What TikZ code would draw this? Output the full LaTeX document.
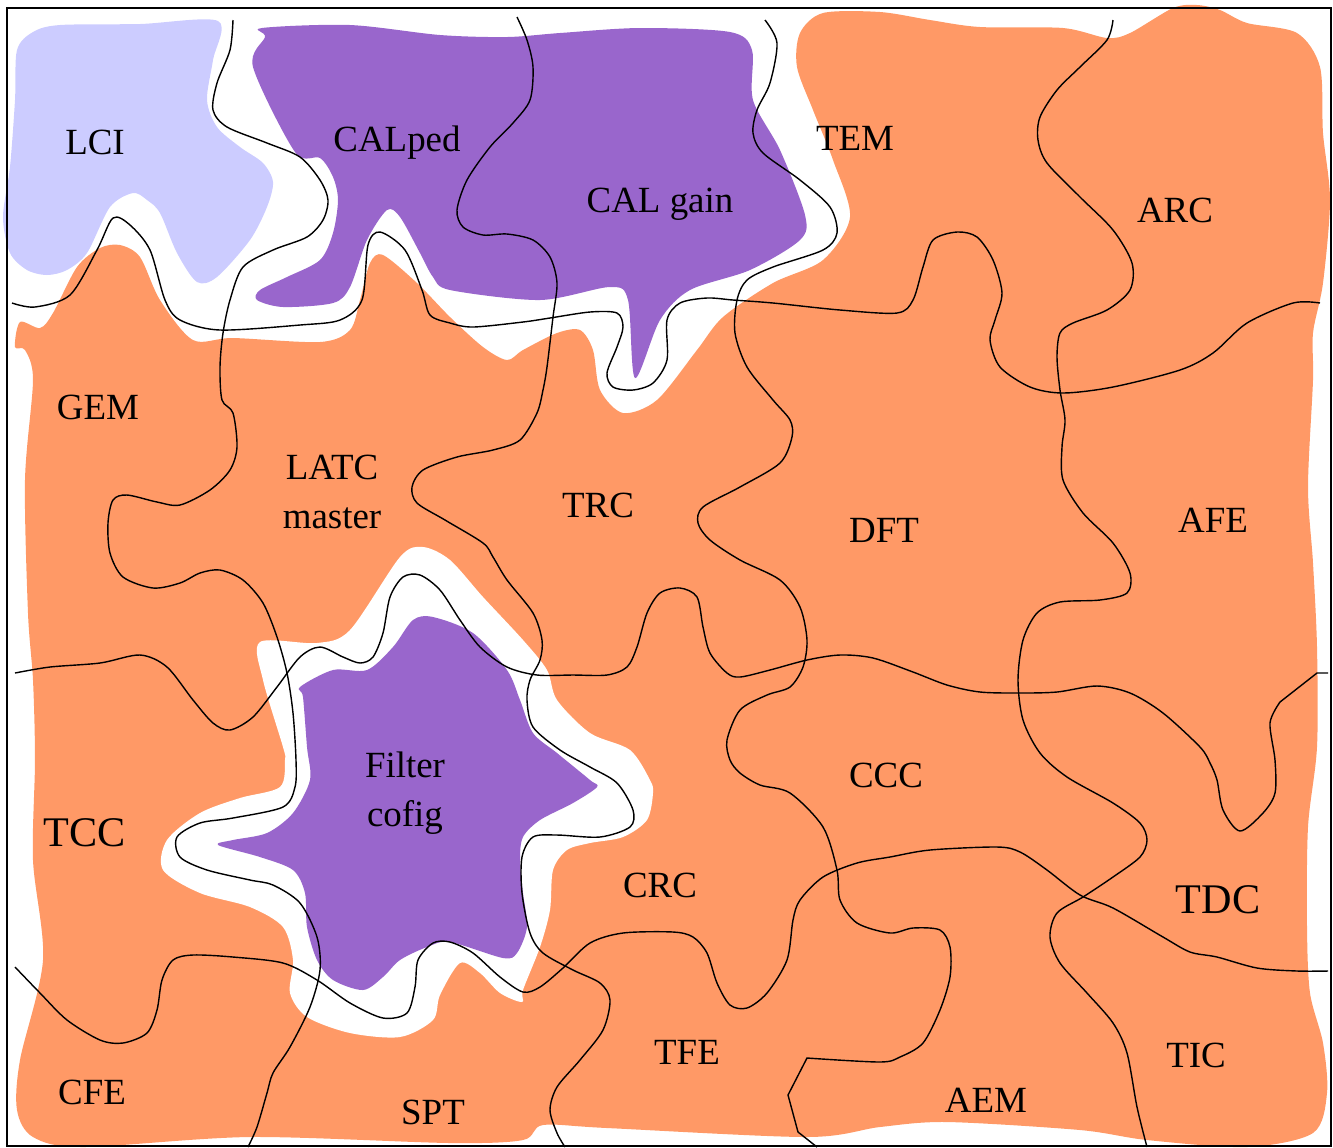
\documentclass[tikz,border=0pt]{standalone}
\usepackage{fontspec}
\setmainfont{Liberation Serif}
\usepackage{tikz}

\definecolor{piece}{HTML}{FF9966}
\definecolor{lilac}{HTML}{CCCCFF}
\definecolor{calpurple}{HTML}{9966CC}

\begin{document}
\begin{tikzpicture}[
        x=0.01cm, y=-0.01cm,
        lbl/.style={inner sep=0pt, align=center, font=\fontsize{10.5}{14}\selectfont},
        biglbl/.style={lbl, font=\fontsize{12}{15}\selectfont},
        cut/.style={line width=0.4pt, black},
        blob/.style={smooth cycle, tension=0.5}
    ]
    \useasboundingbox (0,0) rectangle (1333,1147);

    % orange board
    \fill[piece] plot[blob] coordinates {(15,347) (20,322) (40,328) (53,313) (77,267) (100,248) (120,245) (140,257) (160,300) (193,340) (233,338) (320,342) (350,330) (360,300) (370,263) (383,255) (417,283) (450,317) (483,347) (507,360) (523,350) (557,333) (580,330) (593,350) (600,390) (623,413) (657,400) (697,350) (723,317) (773,283) (823,260) (850,217) (833,160) (813,110) (797,67) (800,33) (823,13) (880,12) (930,20) (980,27) (1063,28) (1107,38) (1130,33) (1173,8) (1197,5) (1220,10) (1247,23) (1297,33) (1320,67) (1323,133) (1330,200) (1323,283) (1313,333) (1313,380) (1308,487) (1313,563) (1317,647) (1317,747) (1308,827) (1307,927) (1310,993) (1323,1043) (1327,1093) (1313,1133) (1247,1147) (1147,1140) (1080,1130) (947,1122) (880,1127) (807,1137) (607,1128) (543,1125) (523,1140) (450,1143) (250,1137) (83,1147) (33,1137) (17,1110) (20,1060) (43,960) (33,860) (35,760) (33,680) (28,613) (25,480) (33,380) (25,350)};

    % gap round the filter piece
    \fill[white] plot[blob] coordinates {(423,547) (450,560) (483,597) (523,640) (547,670) (557,700) (590,733) (630,750) (650,780) (653,793) (647,820) (623,837) (590,843) (567,850) (553,870) (550,910) (540,947) (523,990) (522,1002) (500,993) (480,973) (460,963) (440,995) (433,1020) (400,1037) (350,1033) (307,1017) (290,993) (293,960) (283,927) (250,907) (200,893) (163,870) (167,840) (200,813) (240,798) (280,787) (285,760) (283,747) (263,680) (260,642) (317,643) (350,630) (400,557)};

    % LCI piece
    \fill[lilac] plot[blob] coordinates {(60,25) (140,24) (218,21) (213,60) (207,100) (217,127) (240,147) (263,163) (273,182) (267,207) (250,240) (217,277) (197,282) (177,253) (160,213) (147,200) (133,193) (110,207) (87,253) (67,270) (47,275) (27,270) (10,253) (3,217) (10,167) (15,100) (17,50) (33,32)};

    % CAL pieces
    \fill[calpurple] plot[blob] coordinates {(262,28) (350,25) (440,35) (507,37) (560,33) (640,28) (730,32) (752,50) (753,100) (780,150) (805,215) (800,240) (750,270) (690,290) (660,320) (635,378) (628,300) (610,287) (540,300) (450,290) (433,277) (420,253) (400,217) (387,210) (367,240) (350,287) (333,303) (283,307) (257,300) (260,290) (287,277) (320,260) (333,233) (338,200) (333,177) (320,158) (295,152) (253,67) (265,37)};

    % Filter piece
    \fill[calpurple] plot[blob] coordinates {(433,617) (473,633) (507,670) (520,700) (533,733) (557,753) (590,780) (597,787) (573,803) (540,820) (523,837) (520,860) (523,893) (527,927) (517,953) (503,958) (450,942) (427,947) (400,960) (383,977) (363,990) (333,980) (317,960) (307,927) (305,893) (293,870) (260,857) (218,845) (233,840) (267,833) (293,813) (310,780) (307,747) (303,697) (300,687) (333,670) (367,670) (393,647) (413,620)};

    % cuts
    \draw[cut] plot[smooth] coordinates {(12,303) (35,307) (70,295) (97,250) (113,218) (130,225) (150,250) (165,300) (180,320) (220,330) (300,325) (340,320) (362,300) (368,245) (380,232) (405,250) (422,290) (430,315) (450,323) (473,327) (523,322) (550,318) (590,312) (617,313) (623,327) (617,347) (607,373) (613,387) (633,390) (653,383) (667,360) (667,320) (680,303) (707,298) (733,300) (773,303) (840,310) (897,313) (913,300) (923,267) (933,240) (957,232) (977,237) (993,260) (1002,293) (995,320) (990,340) (1000,367) (1030,387) (1063,393) (1113,387) (1180,370) (1213,353) (1247,323) (1293,303) (1320,303)};
    \draw[cut] plot[smooth] coordinates {(233,20) (230,50) (217,83) (213,110) (227,127) (267,143) (300,157) (320,180) (328,200) (323,220) (307,237) (273,250) (243,267) (230,300) (223,333) (220,367) (222,400) (233,413) (237,447) (230,470) (210,490) (180,505) (157,502) (127,495) (113,500) (108,523) (110,553) (123,577) (153,588) (180,583) (200,573) (220,570) (243,580) (263,603) (277,637) (287,673) (293,713) (296,760) (295,787) (283,807) (233,818) (200,823) (177,837) (180,857) (207,870) (250,880) (273,885) (300,903) (317,937) (320,970) (310,1007) (290,1047) (273,1073) (267,1093) (257,1127) (248,1147)};
    \draw[cut] plot[smooth] coordinates {(517,17) (527,40) (533,67) (530,100) (513,123) (490,147) (467,180) (457,210) (463,227) (483,235) (507,234) (533,240) (550,257) (557,283) (553,317) (547,367) (543,390) (537,413) (520,440) (493,450) (457,457) (423,470) (412,487) (417,503) (445,520) (483,543) (493,557) (507,580) (533,613) (542,640) (540,660) (530,680) (527,700) (533,727) (560,750) (590,767) (617,783) (633,810) (630,827) (600,837) (557,835) (533,837) (522,857) (522,893) (530,933) (543,953) (573,970) (600,983) (610,1000) (603,1030) (580,1060) (557,1087) (550,1110) (557,1133) (565,1147)};
    \draw[cut] plot[smooth] coordinates {(15,967) (40,993) (67,1020) (100,1040) (123,1043) (147,1033) (157,1010) (162,980) (173,960) (193,955) (233,957) (283,963) (317,980) (350,1003) (383,1018) (407,1013) (415,987) (418,960) (433,943) (450,942) (473,953) (500,977) (523,992) (540,987) (563,968) (590,943) (623,933) (673,932) (693,937) (707,953) (717,983) (730,1005) (747,1008) (767,993) (787,960) (793,920) (800,900) (823,877) (857,863) (890,857) (930,850) (997,847) (1020,852) (1047,870) (1080,895) (1113,908) (1163,937) (1190,952) (1217,957) (1257,968) (1297,971) (1328,971)};
    \draw[cut] plot[smooth] coordinates {(765,20) (777,43) (770,83) (757,110) (753,133) (763,153) (800,180) (830,207) (837,233) (823,250) (773,267) (747,280) (737,300) (735,333) (747,367) (773,400) (790,420) (792,437) (780,463) (740,487) (703,507) (698,523) (710,540) (740,560) (780,580) (800,607) (807,640) (803,667) (790,687) (767,695) (740,710) (727,740) (730,760) (740,773) (760,785) (790,793) (823,827) (837,870) (840,900) (857,923) (890,933) (913,928) (940,930) (950,947) (950,977) (940,1010) (923,1043) (900,1057) (880,1062) (807,1058)} -- (788,1095) -- (798,1132) -- (817,1147);
    \draw[cut] plot[smooth] coordinates {(1113,20) (1107,40) (1080,67) (1057,90) (1040,117) (1038,140) (1047,163) (1080,197) (1113,230) (1132,263) (1130,290) (1107,310) (1073,323) (1060,333) (1057,357) (1060,390) (1065,420) (1062,447) (1063,480) (1083,513) (1113,543) (1130,573) (1127,593) (1100,600) (1060,602) (1037,613) (1023,640) (1018,680) (1023,720) (1040,753) (1067,777) (1113,803) (1140,823) (1147,840) (1140,857) (1113,877) (1083,897) (1057,913) (1050,937) (1060,963) (1087,993) (1113,1023) (1127,1053) (1137,1107) (1147,1147)};
    \draw[cut] plot[smooth] coordinates {(15,673) (50,667) (100,663) (140,655) (167,667) (193,700) (213,723) (230,730) (253,717) (277,687) (300,657) (320,647) (343,657) (360,663) (373,657) (383,633) (390,597) (403,577) (420,575) (440,590) (460,620) (480,647) (507,667) (537,675) (573,675) (607,675) (627,667) (637,647) (647,613) (660,593) (680,588) (697,597) (703,627) (710,653) (727,673) (740,677) (770,670) (807,660) (840,655) (873,658) (913,672) (947,685) (980,692) (1020,693) (1057,692) (1097,686) (1130,693) (1163,713) (1200,747) (1210,763) (1217,780) (1223,810) (1240,831) (1263,813) (1275,793) (1275,760) (1270,723) (1280,702)} -- (1317,673) -- (1328,673);

    % frame
    \draw[line width=0.4pt] (7,8) rectangle (1331,1146);

    % piece names
    \node[lbl] (lci) at (95,142) {LCI};
    \node[lbl] (calped) at (397,143) {CALped};
    \node[lbl] (calgain) at (660,204) {CAL gain};
    \node[lbl] (tem) at (855,138) {TEM};
    \node[lbl] (arc) at (1175,210) {ARC};
    \node[lbl] (gem) at (98,407) {GEM};
    \node[lbl] (latc) at (332,492) {LATC\\master};
    \node[lbl] (trc) at (598,505) {TRC};
    \node[lbl] (dft) at (884,530) {DFT};
    \node[lbl] (afe) at (1213,520) {AFE};
    \node[lbl] (filter) at (405,793) {Filter\\cofig};
    \node[lbl] (ccc) at (886,775) {CCC};
    \node[biglbl] (tcc) at (85,833) {TCC};
    \node[lbl] (crc) at (660,885) {CRC};
    \node[biglbl] (tdc) at (1218,900) {TDC};
    \node[lbl] (tfe) at (687,1052) {TFE};
    \node[lbl] (tic) at (1196,1055) {TIC};
    \node[lbl] (cfe) at (92,1092) {CFE};
    \node[lbl] (spt) at (433,1112) {SPT};
    \node[lbl] (aem) at (986,1100) {AEM};

\end{tikzpicture}
\end{document}
